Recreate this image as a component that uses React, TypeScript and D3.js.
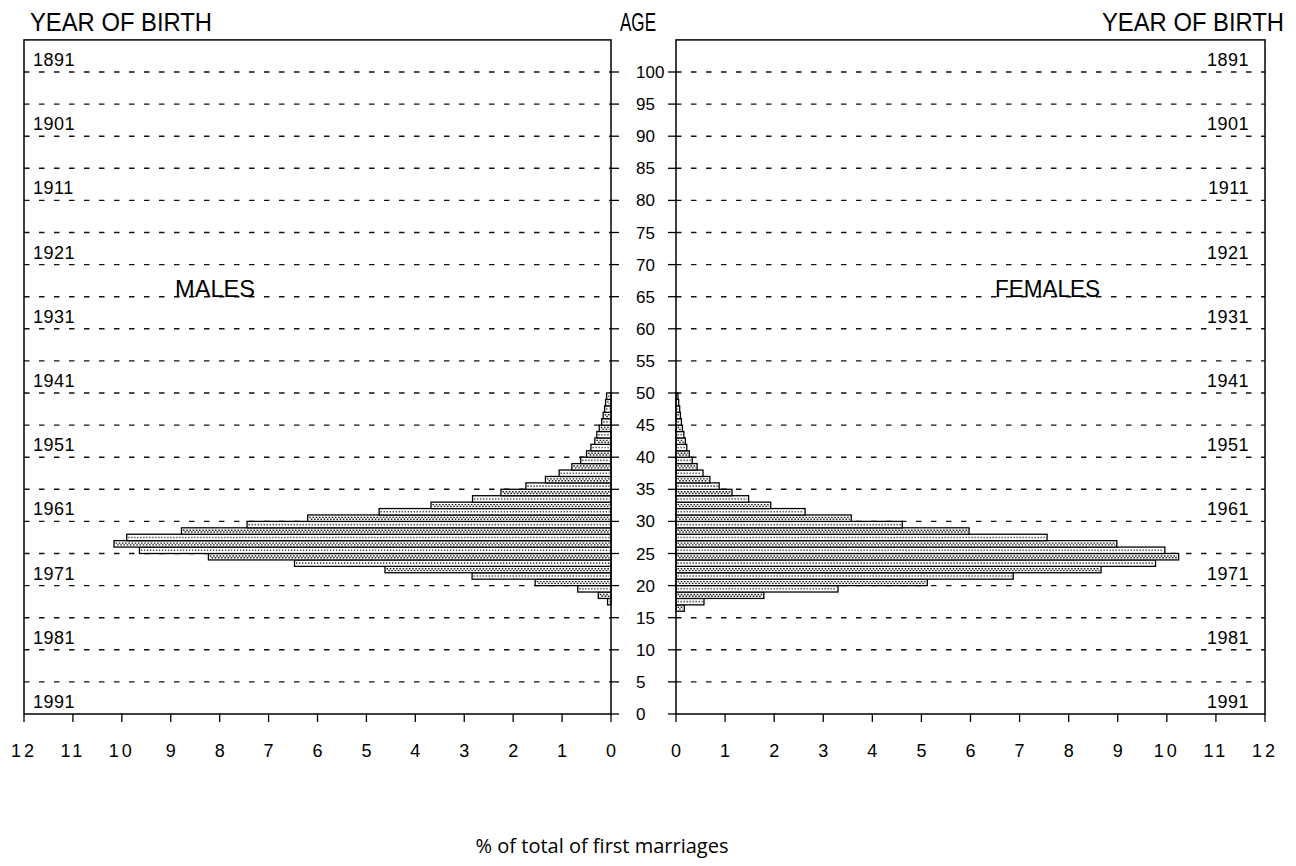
import React from "react";
import * as d3 from "d3";

const maleAges = [17, 18, 19, 20, 21, 22, 23, 24, 25, 26, 27, 28, 29, 30, 31, 32, 33, 34, 35, 36, 37, 38, 39, 40, 41, 42, 43, 44, 45, 46, 47, 48, 49];
const maleValues = [0.07, 0.26, 0.68, 1.55, 2.84, 4.62, 6.47, 8.23, 9.64, 10.16, 9.9, 8.78, 7.44, 6.2, 4.74, 3.68, 2.83, 2.25, 1.74, 1.34, 1.06, 0.8, 0.62, 0.5, 0.41, 0.33, 0.29, 0.24, 0.19, 0.16, 0.13, 0.11, 0.09];

const femaleAges = [16, 17, 18, 19, 20, 21, 22, 23, 24, 25, 26, 27, 28, 29, 30, 31, 32, 33, 34, 35, 36, 37, 38, 39, 40, 41, 42, 43, 44, 45, 46, 47, 48, 49];
const femaleValues = [0.17, 0.57, 1.79, 3.3, 5.12, 6.87, 8.66, 9.77, 10.24, 9.96, 8.98, 7.56, 5.97, 4.61, 3.57, 2.63, 1.93, 1.48, 1.14, 0.88, 0.69, 0.55, 0.43, 0.33, 0.27, 0.22, 0.19, 0.16, 0.13, 0.11, 0.09, 0.075, 0.055, 0.04];

const ageTicks = [0, 5, 10, 15, 20, 25, 30, 35, 40, 45, 50, 55, 60, 65, 70, 75, 80, 85, 90, 95, 100];
const gridAges = [5, 10, 15, 20, 25, 30, 35, 40, 45, 50, 55, 60, 65, 70, 75, 80, 85, 90, 95, 100];
const pctTicks = [0, 1, 2, 3, 4, 5, 6, 7, 8, 9, 10, 11, 12];
const birthYears = [1891, 1901, 1911, 1921, 1931, 1941, 1951, 1961, 1971, 1981, 1991];
const censusYear = 1991;

const W = 1296;
const H = 866;

export default function App() {
  const y = d3.scaleLinear().domain([0, 105]).range([714, 714 - 105 * 6.42]);
  const xM = d3.scaleLinear().domain([0, 12]).range([611, 24]);
  const xF = d3.scaleLinear().domain([0, 12]).range([676, 1265]);

  const font = "'Liberation Sans', Arial, sans-serif";
  const top = y(105);
  const base = y(0);

  const bar = (side: "m" | "f", age: number, v: number) => {
    const yt = y(age + 1);
    const yb = y(age);
    const h = yb - yt;
    const x0 = side === "m" ? xM(v) : xF(0);
    const x1 = side === "m" ? xM(0) : xF(v);
    const w = x1 - x0;
    const dark = age % 2 === 0;
    return (
      <g key={side + age}>
        <rect x={x0} y={yt} width={w} height={h} fill="#fff" stroke="#000" strokeWidth={1.3} />
        {w > 3 && dark && (
          <g>
            <line x1={x0 + 1.5} x2={x1 - 1.5} y1={yt + h * 0.38} y2={yt + h * 0.38} stroke="#222" strokeWidth={1.4} strokeDasharray="1.6,1.6" />
            <line x1={x0 + 1.5} x2={x1 - 1.5} y1={yt + h * 0.66} y2={yt + h * 0.66} stroke="#222" strokeWidth={1.4} strokeDasharray="1.6,1.6" strokeDashoffset={1.6} />
          </g>
        )}
        {w > 3 && !dark && (
          <line x1={x0 + 1.5} x2={x1 - 1.5} y1={yt + h / 2} y2={yt + h / 2} stroke="#444" strokeWidth={1.6} strokeDasharray="1.3,1.7" />
        )}
      </g>
    );
  };

  return (
    <svg width={W} height={H} style={{ position: "absolute", left: 0, top: 0, background: "#fff" }} fontFamily={font}>
      <rect x={0} y={0} width={W} height={H} fill="#fff" />

      {/* gridlines */}
      {gridAges.map((a) => (
        <g key={"g" + a}>
          <line x1={xM(12)} x2={xM(0)} y1={y(a)} y2={y(a)} stroke="#111" strokeWidth={1.4} strokeDasharray="5.5,9.5" />
          <line x1={xF(0)} x2={xF(12)} y1={y(a)} y2={y(a)} stroke="#111" strokeWidth={1.4} strokeDasharray="5.5,9.5" />
        </g>
      ))}

      {/* bars */}
      {maleAges.map((a, i) => bar("m", a, maleValues[i]))}
      {femaleAges.map((a, i) => bar("f", a, femaleValues[i]))}

      {/* frames */}
      <rect x={xM(12)} y={top} width={xM(0) - xM(12)} height={base - top} fill="none" stroke="#000" strokeWidth={1.5} />
      <rect x={xF(0)} y={top} width={xF(12) - xF(0)} height={base - top} fill="none" stroke="#000" strokeWidth={1.5} />

      {/* age axis ticks & labels */}
      {ageTicks.map((a) => (
        <g key={"a" + a}>
          <line x1={xM(0)} x2={xM(0) + 8} y1={y(a)} y2={y(a)} stroke="#000" strokeWidth={1.3} />
          <line x1={xF(0) - 8} x2={xF(0)} y1={y(a)} y2={y(a)} stroke="#000" strokeWidth={1.3} />
          <text x={636} y={y(a) + 6} fontSize={17} fill="#000">
            {a}
          </text>
        </g>
      ))}

      {/* percent ticks */}
      {pctTicks.map((t) => (
        <g key={"p" + t}>
          <line x1={xM(t)} x2={xM(t)} y1={base} y2={base + 8} stroke="#000" strokeWidth={1.3} />
          <line x1={xF(t)} x2={xF(t)} y1={base} y2={base + 8} stroke="#000" strokeWidth={1.3} />
          <text x={xM(t)} y={757} fontSize={18} textAnchor="middle" letterSpacing={t >= 10 ? 3 : 0} fill="#000">
            {t}
          </text>
          <text x={xF(t)} y={757} fontSize={18} textAnchor="middle" letterSpacing={t >= 10 ? 3 : 0} fill="#000">
            {t}
          </text>
        </g>
      ))}

      {/* year of birth labels */}
      {birthYears.map((yr) => {
        const a = censusYear - yr;
        return (
          <g key={"y" + yr}>
            <text x={33} y={y(a) - 6} fontSize={18} letterSpacing={0.5} fill="#000">
              {yr}
            </text>
            <text x={1249} y={y(a) - 6} fontSize={18} letterSpacing={0.5} textAnchor="end" fill="#000">
              {yr}
            </text>
          </g>
        );
      })}

      {/* titles */}
      <text x={30} y={31} fontSize={25} textLength={182} lengthAdjust="spacingAndGlyphs" fill="#000">
        YEAR OF BIRTH
      </text>
      <text x={620} y={31} fontSize={25} textLength={36} lengthAdjust="spacingAndGlyphs" fill="#000">
        AGE
      </text>
      <text x={1102} y={31} fontSize={25} textLength={182} lengthAdjust="spacingAndGlyphs" fill="#000">
        YEAR OF BIRTH
      </text>
      <text x={175} y={297} fontSize={23} textLength={80} lengthAdjust="spacingAndGlyphs" fill="#000">
        MALES
      </text>
      <text x={995} y={297} fontSize={23} textLength={105} lengthAdjust="spacingAndGlyphs" fill="#000">
        FEMALES
      </text>
      <text x={602} y={853} fontSize={20} textAnchor="middle" fontFamily="'Open Sans', 'DejaVu Sans', sans-serif" fill="#000">
        % of total of first marriages
      </text>
    </svg>
  );
}
